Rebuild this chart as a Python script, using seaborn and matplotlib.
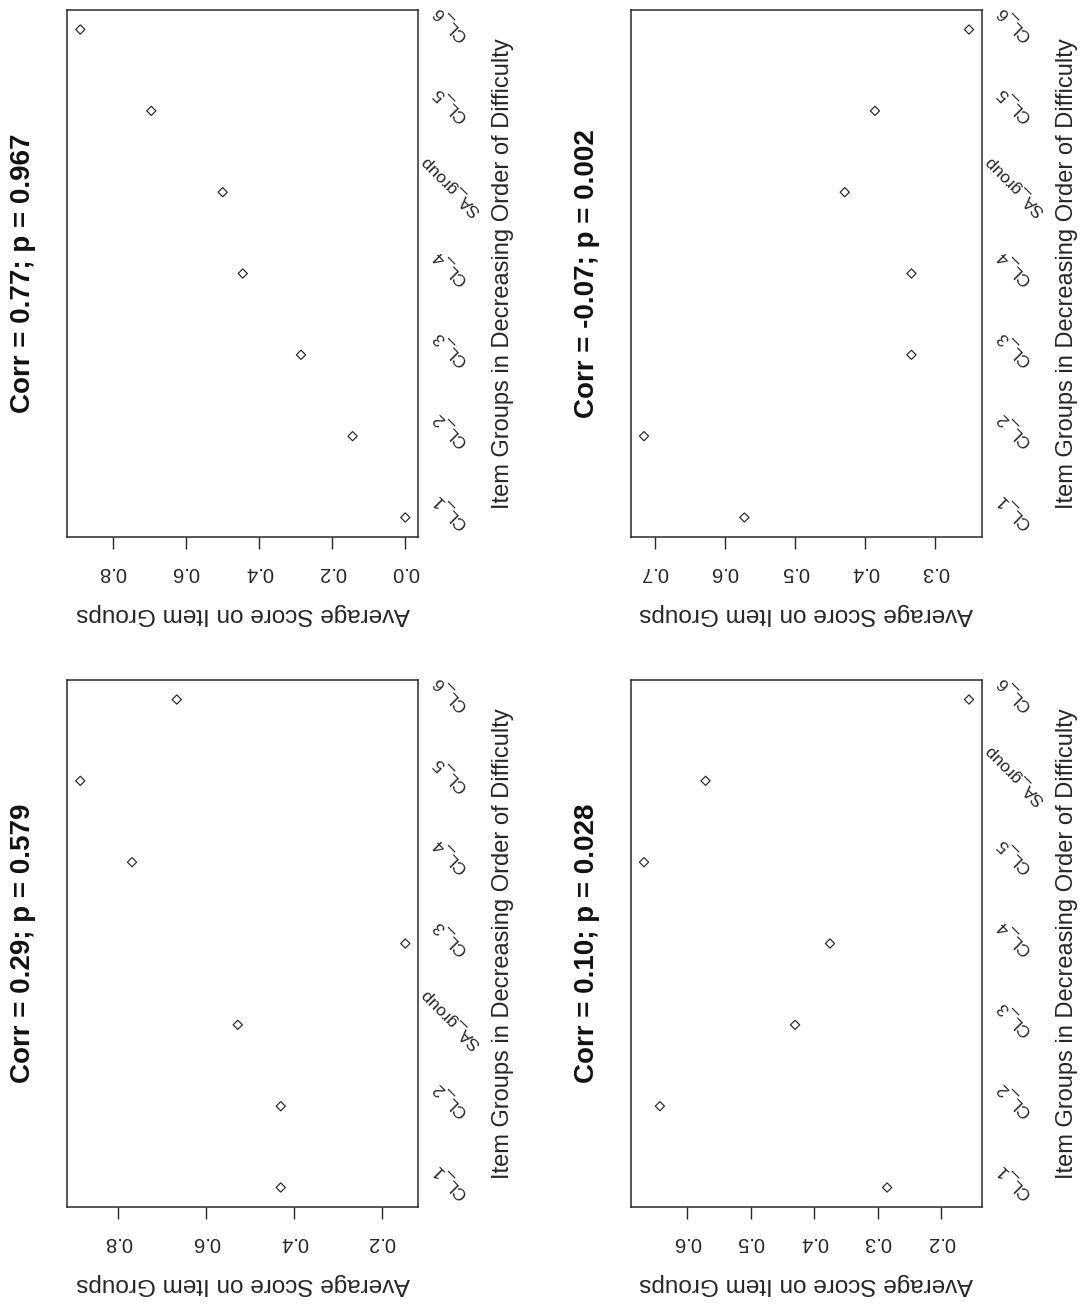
import matplotlib
matplotlib.use("Agg")
import matplotlib.pyplot as plt
import seaborn as sns
import pandas as pd
import numpy as np

# ---------------- data ----------------
groups_a = ["CL_1", "CL_2", "SA_group", "CL_3", "CL_4", "CL_5", "CL_6"]
scores_a = [0.430, 0.430, 0.528, 0.146, 0.769, 0.887, 0.667]
ticks_a = [0.2, 0.4, 0.6, 0.8]
title_a = "Corr = 0.29; p = 0.579"

groups_b = ["CL_1", "CL_2", "CL_3", "CL_4", "SA_group", "CL_5", "CL_6"]
scores_b = [0.0, 0.144, 0.285, 0.444, 0.499, 0.694, 0.888]
ticks_b = [0.0, 0.2, 0.4, 0.6, 0.8]
title_b = "Corr = 0.77; p = 0.967"

groups_c = ["CL_1", "CL_2", "CL_3", "CL_4", "CL_5", "SA_group", "CL_6"]
scores_c = [0.285, 0.643, 0.430, 0.375, 0.668, 0.571, 0.156]
ticks_c = [0.2, 0.3, 0.4, 0.5, 0.6]
title_c = "Corr = 0.10; p = 0.028"

groups_d = ["CL_1", "CL_2", "CL_3", "CL_4", "SA_group", "CL_5", "CL_6"]
scores_d = [0.572, 0.715, 0.334, 0.334, 0.429, 0.386, 0.252]
ticks_d = [0.3, 0.4, 0.5, 0.6, 0.7]
title_d = "Corr = -0.07; p = 0.002"

x_label = "Item Groups in Decreasing Order of Difficulty"
y_label = "Average Score on Item Groups"

# ---------------- style ----------------
sns.set_style("white")
plt.rcParams["font.family"] = ["Liberation Sans", "DejaVu Sans"]
INK = "#262626"

fig = plt.figure(figsize=(10.8, 13.05), dpi=100)

W_PX, H_PX = 1080, 1305
LEFT_COL = 67.3 / W_PX
RIGHT_COL = 631 / W_PX
AX_W = 351 / W_PX
TOP_ROW = 1 - 537 / H_PX
BOT_ROW = 1 - 1207 / H_PX
AX_H = 527 / H_PX


def draw(ax, groups, scores, ticks, title):
    pos = np.arange(1, len(groups) + 1)
    df = pd.DataFrame({"pos": pos, "score": scores, "group": groups})
    sns.scatterplot(data=df, x="score", y="pos", ax=ax, marker="D", s=22,
                    facecolor="none", edgecolor=INK, linewidth=0.85,
                    legend=False)
    lo, hi = min(scores), max(scores)
    pad = 0.04 * (hi - lo)
    ax.set_xlim(hi + pad, lo - pad)
    n = len(groups)
    ypad = 0.04 * (n - 1)
    ax.set_ylim(1 - ypad, n + ypad)

    ax.set_xticks(ticks)
    ax.set_xticklabels([f"{t:.1f}" for t in ticks], rotation=180,
                       fontsize=14.5, color=INK)
    ax.tick_params(axis="x", bottom=True, length=8.9, width=1.0,
                   pad=9.5, color=INK, direction="out")
    ax.set_yticks([])
    ax.set_xlabel("")
    ax.set_ylabel("")
    for sp in ax.spines.values():
        sp.set_visible(True)
        sp.set_color("#2a2a2a")
        sp.set_linewidth(1.1)

    for p, g in zip(pos, groups):
        ax.annotate(g, xy=(1, p), xycoords=("axes fraction", "data"),
                    xytext=(23, 4.5), textcoords="offset points",
                    rotation=135, rotation_mode="anchor",
                    ha="center", va="center", fontsize=12.5, color=INK)

    ax.annotate(title, xy=(0, 0.5), xycoords="axes fraction",
                xytext=(-32, 0), textcoords="offset points",
                rotation=90, ha="center", va="center",
                fontsize=20, fontweight="bold", color="#111111")
    ax.annotate(x_label, xy=(1, 0.5), xycoords="axes fraction",
                xytext=(61, 0), textcoords="offset points",
                rotation=90, ha="center", va="center",
                fontsize=17, color=INK)
    ax.annotate(y_label, xy=(0.5, 0), xycoords="axes fraction",
                xytext=(0, -55.5), textcoords="offset points",
                rotation=180, ha="center", va="center",
                fontsize=17.5, color=INK)


ax_b = fig.add_axes([LEFT_COL, TOP_ROW, AX_W, AX_H])
ax_d = fig.add_axes([RIGHT_COL, TOP_ROW, AX_W, AX_H])
ax_a = fig.add_axes([LEFT_COL, BOT_ROW, AX_W, AX_H])
ax_c = fig.add_axes([RIGHT_COL, BOT_ROW, AX_W, AX_H])

draw(ax_b, groups_b, scores_b, ticks_b, title_b)
draw(ax_d, groups_d, scores_d, ticks_d, title_d)
draw(ax_a, groups_a, scores_a, ticks_a, title_a)
draw(ax_c, groups_c, scores_c, ticks_c, title_c)

fig.savefig("out.png", dpi=100, facecolor="white")
